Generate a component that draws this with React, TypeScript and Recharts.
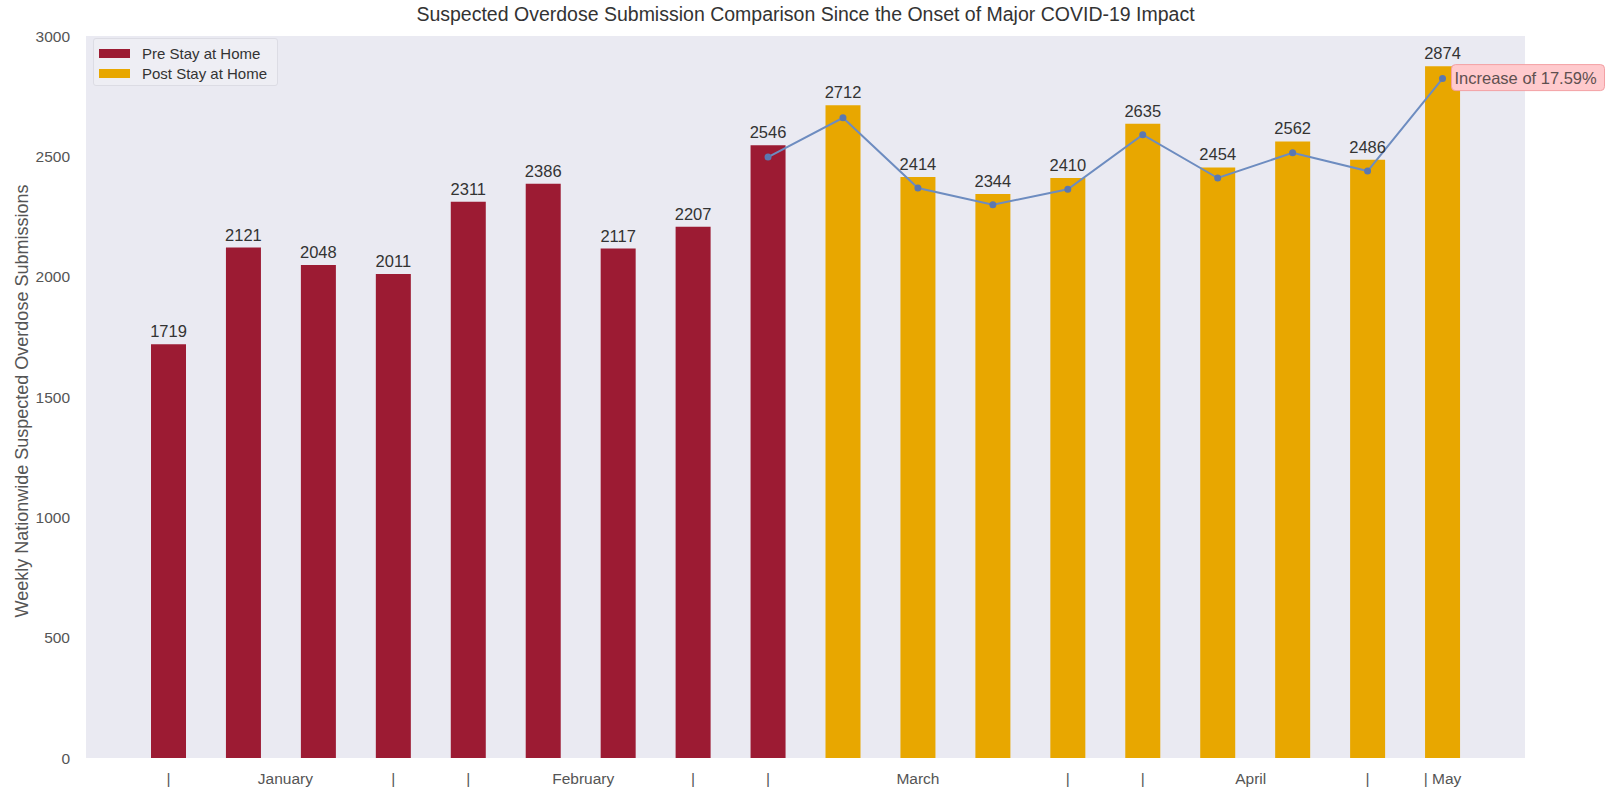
import React from "react";
import {
  ComposedChart,
  Bar,
  Line,
  XAxis,
  YAxis,
  CartesianGrid,
  LabelList,
  Cell,
} from "recharts";

// x tick text per week ("|" marks and month names, as in the source)
const TICK_LABELS = [
  "|", "January", "", "|", "|", "February", "", "|", "|",
  "", "March", "", "|", "|", "April", "", "|", "| May",
];
const PRE_STAY = [1719, 2121, 2048, 2011, 2311, 2386, 2117, 2207, 2546];
const POST_STAY = [2712, 2414, 2344, 2410, 2635, 2454, 2562, 2486, 2874];
// trend line, starts on the last pre-stay week
const TREND = [2497, 2660, 2368, 2299, 2363, 2590, 2410, 2515, 2439, 2823];
const Y_TICKS = [0, 500, 1000, 1500, 2000, 2500, 3000];
const ANNOTATION = "Increase of 17.59%";

const PRE_COLOR = "#9c1b33";
const POST_COLOR = "#e8a700";
const LINE_COLOR = "#6d8cc0";
const TEXT = "#333";

// month names sit between weeks, nudge them right
const LABEL_DX: Record<number, number> = { 1: 42, 5: 40, 14: 33 };

const data = TICK_LABELS.map((label, i) => {
  const isPre = i < PRE_STAY.length;
  const t = i - (PRE_STAY.length - 1);
  return {
    label,
    value: isPre ? PRE_STAY[i] : POST_STAY[i - PRE_STAY.length],
    pre: isPre,
    trend: t >= 0 ? TREND[t] : null,
  };
});

const LAST = data.length - 1;

function XTick({ x, y, payload }: any) {
  const i = payload.index;
  return (
    <text
      x={x + (LABEL_DX[i] ?? 0)}
      y={y}
      dy={18}
      textAnchor="middle"
      fill="#555"
      fontSize={15.5}
    >
      {TICK_LABELS[i]}
    </text>
  );
}

function Callout(props: any) {
  const { x, y, index, value } = props;
  if (index !== LAST && value !== TREND[TREND.length - 1]) return null;
  if (x == null || y == null) return null;
  return (
    <g>
      <rect
        x={x + 9}
        y={y - 14}
        width={153}
        height={26}
        rx={4}
        fill="#ffcacd"
        stroke="#f3a0a4"
        strokeWidth={1}
      />
      <text x={x + 12} y={y} dy={5.5} fontSize={16.5} fill="#5e5050">
        {ANNOTATION}
      </text>
    </g>
  );
}

function LegendBox() {
  const rows = [
    { name: "Pre Stay at Home", color: PRE_COLOR },
    { name: "Post Stay at Home", color: POST_COLOR },
  ];
  return (
    <div
      style={{
        position: "absolute",
        left: 93,
        top: 38,
        width: 185,
        height: 48,
        boxSizing: "border-box",
        background: "#eeeef4",
        border: "1px solid #dcdce4",
        borderRadius: 3,
        padding: "4px 0 0 5px",
      }}
    >
      {rows.map((r) => (
        <div
          key={r.name}
          style={{ display: "flex", alignItems: "center", height: 20, fontSize: 15, color: TEXT }}
        >
          <span
            style={{ width: 31, height: 9, background: r.color, marginRight: 12, display: "inline-block" }}
          />
          {r.name}
        </div>
      ))}
    </div>
  );
}

export default function App() {
  return (
    <div
      style={{
        position: "absolute",
        left: 0,
        top: 0,
        width: 1614,
        height: 790,
        background: "#fff",
        fontFamily: "'Liberation Sans', Arial, sans-serif",
      }}
    >
      <div
        style={{
          position: "absolute",
          left: 86,
          width: 1439,
          top: 3,
          textAlign: "center",
          fontSize: 19.5,
          color: TEXT,
        }}
      >
        Suspected Overdose Submission Comparison Since the Onset of Major COVID-19 Impact
      </div>
      <div
        style={{
          position: "absolute",
          left: 22,
          top: 401,
          transform: "translate(-50%, -50%) rotate(-90deg)",
          whiteSpace: "nowrap",
          fontSize: 18,
          color: "#555",
        }}
      >
        Weekly Nationwide Suspected Overdose Submissions
      </div>
      <ComposedChart
        width={1614}
        height={790}
        data={data}
        margin={{ top: 36, right: 89, bottom: 2, left: 26 }}
      >
        <CartesianGrid fill="#eaeaf2" horizontal={false} vertical={false} />
        <XAxis
          dataKey="label"
          height={30}
          interval={0}
          padding={{ left: 45, right: 45 }}
          tickLine={false}
          axisLine={false}
          tick={<XTick />}
          allowDuplicatedCategory
        />
        <YAxis
          width={60}
          domain={[0, 3000]}
          ticks={Y_TICKS}
          tickLine={false}
          axisLine={false}
          tickMargin={10}
          tick={{ fill: "#555", fontSize: 15.5 }}
        />
        <Bar dataKey="value" barSize={35} isAnimationActive={false}>
          {data.map((d, i) => (
            <Cell key={i} fill={d.pre ? PRE_COLOR : POST_COLOR} />
          ))}
          <LabelList dataKey="value" position="top" offset={7} fill={TEXT} fontSize={16.5} />
        </Bar>
        <Line
          dataKey="trend"
          stroke={LINE_COLOR}
          strokeWidth={2}
          dot={{ r: 2.5, fill: "#5b78b0", stroke: "#5b78b0" }}
          activeDot={false}
          isAnimationActive={false}
        >
          <LabelList dataKey="trend" content={<Callout />} />
        </Line>
      </ComposedChart>
      <LegendBox />
    </div>
  );
}
